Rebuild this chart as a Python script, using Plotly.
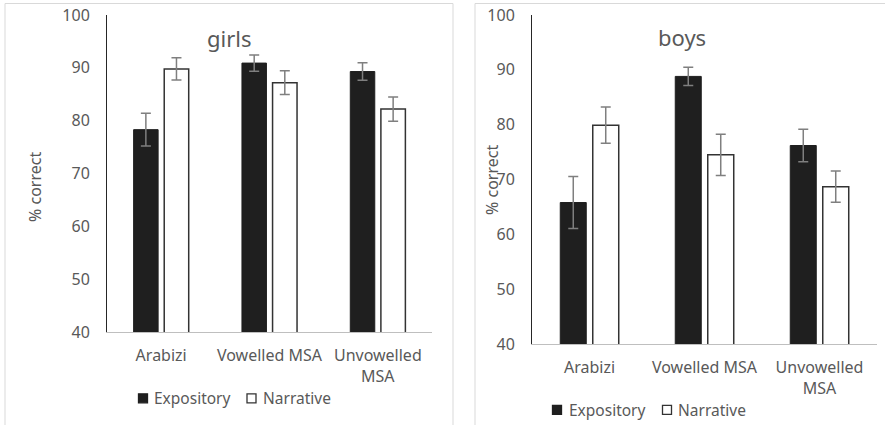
import plotly.graph_objects as go

# Reading conditions (x-axis categories)
categories = ["Arabizi", "Vowelled MSA", "Unvowelled<br>MSA"]

# Mean % correct and error bar half-widths, girls
girls_expository = [78.3, 90.9, 89.3]
girls_expository_err = [3.1, 1.55, 1.65]
girls_narrative = [89.8, 87.2, 82.2]
girls_narrative_err = [2.1, 2.25, 2.3]

# Mean % correct and error bar half-widths, boys
boys_expository = [65.8, 88.8, 76.2]
boys_expository_err = [4.75, 1.65, 2.95]
boys_narrative = [79.9, 74.5, 68.7]
boys_narrative_err = [3.3, 3.75, 2.85]

y_ticks = [40, 50, 60, 70, 80, 90, 100]
series_names = ["Expository", "Narrative"]

W, H = 885, 425
FONT = "Noto Sans"
GREY_TEXT = "#595959"
DARK = "#1f1f1f"
OUTLINE = "#333333"
ERR = "#7f7f7f"


def px(x):
    return x / W


def py(y):
    return 1 - y / H


def bar_pair(exp, exp_err, nar, nar_err, xa, ya):
    common = dict(xaxis=xa, yaxis=ya, showlegend=False)
    return [
        go.Bar(
            x=categories, y=exp, name=series_names[0],
            marker=dict(color=DARK, line=dict(color=DARK, width=1)),
            error_y=dict(type="data", array=exp_err, color=ERR, thickness=1.5, width=5),
            **common,
        ),
        go.Bar(
            x=categories, y=nar, name=series_names[1],
            marker=dict(color="white", line=dict(color=OUTLINE, width=1.5)),
            error_y=dict(type="data", array=nar_err, color=ERR, thickness=1.5, width=5),
            **common,
        ),
    ]


fig = go.Figure()
for t in bar_pair(girls_expository, girls_expository_err, girls_narrative,
                  girls_narrative_err, "x", "y"):
    fig.add_trace(t)
for t in bar_pair(boys_expository, boys_expository_err, boys_narrative,
                  boys_narrative_err, "x2", "y2"):
    fig.add_trace(t)

tickfont = dict(family=FONT, size=16, color=GREY_TEXT)
xaxis_common = dict(
    type="category", showgrid=False, zeroline=False, showline=True,
    linecolor="#bfbfbf", linewidth=1, ticks="", tickfont=tickfont,
    ticklabelstandoff=9, fixedrange=True, automargin=False,
)
yaxis_common = dict(
    range=[40, 100], tickvals=y_ticks, showgrid=False, zeroline=False,
    showline=True, linecolor="#262626", linewidth=1, ticks="",
    tickfont=tickfont, ticklabelstandoff=13, fixedrange=True, automargin=False,
)

shapes = [
    # panel frames
    dict(type="rect", xref="paper", yref="paper",
         x0=px(5), x1=px(453), y0=-0.05, y1=py(3.5),
         line=dict(color="#d9d9d9", width=1), layer="below"),
    dict(type="rect", xref="paper", yref="paper",
         x0=px(475), x1=1.05, y0=-0.05, y1=py(3.5),
         line=dict(color="#d9d9d9", width=1), layer="below"),
]

annotations = [
    dict(text="girls", xref="paper", yref="paper", x=px(229.5), y=py(38),
         showarrow=False, xanchor="center", yanchor="middle",
         font=dict(family=FONT, size=22, color=GREY_TEXT)),
    dict(text="boys", xref="paper", yref="paper", x=px(682), y=py(37),
         showarrow=False, xanchor="center", yanchor="middle",
         font=dict(family=FONT, size=22, color=GREY_TEXT)),
    dict(text="% correct", xref="paper", yref="paper", x=px(35), y=py(187),
         showarrow=False, textangle=-90, xanchor="center", yanchor="middle",
         font=dict(family=FONT, size=16, color=GREY_TEXT)),
    dict(text="% correct", xref="paper", yref="paper", x=px(492), y=py(180),
         showarrow=False, textangle=-90, xanchor="center", yanchor="middle",
         font=dict(family=FONT, size=16, color=GREY_TEXT)),
]

# Legend rows under each panel: (square left x, text left x) per series, row centre y
legend_rows = [
    ([(138.5, 152), (247, 260.5)], 398.3),
    ([(552.5, 567), (662.5, 676)], 409.8),
]
legend_fill = [(DARK, DARK), ("white", OUTLINE)]
for entries, cy in legend_rows:
    for (sx, tx), name, (fill, edge) in zip(entries, series_names, legend_fill):
        shapes.append(dict(
            type="rect", xref="paper", yref="paper",
            x0=px(sx), x1=px(sx + 9), y0=py(cy + 4.5), y1=py(cy - 4.5),
            fillcolor=fill, line=dict(color=edge, width=1.3),
        ))
        annotations.append(dict(
            text=name, xref="paper", yref="paper", x=px(tx), y=py(cy),
            showarrow=False, xanchor="left", yanchor="middle",
            font=dict(family=FONT, size=15.5, color=GREY_TEXT),
        ))

fig.update_layout(
    width=W, height=H,
    margin=dict(l=0, r=0, t=0, b=0, autoexpand=False),
    paper_bgcolor="white", plot_bgcolor="white",
    showlegend=False,
    barmode="group", bargap=0.435, bargroupgap=0.2,
    xaxis=dict(domain=[px(107), px(432)], anchor="y", **xaxis_common),
    yaxis=dict(domain=[py(332), py(15)], anchor="x", **yaxis_common),
    xaxis2=dict(domain=[px(532), px(877)], anchor="y2", **xaxis_common),
    yaxis2=dict(domain=[py(344), py(15)], anchor="x2", **yaxis_common),
    shapes=shapes,
    annotations=annotations,
)

fig.write_html("out.html")
